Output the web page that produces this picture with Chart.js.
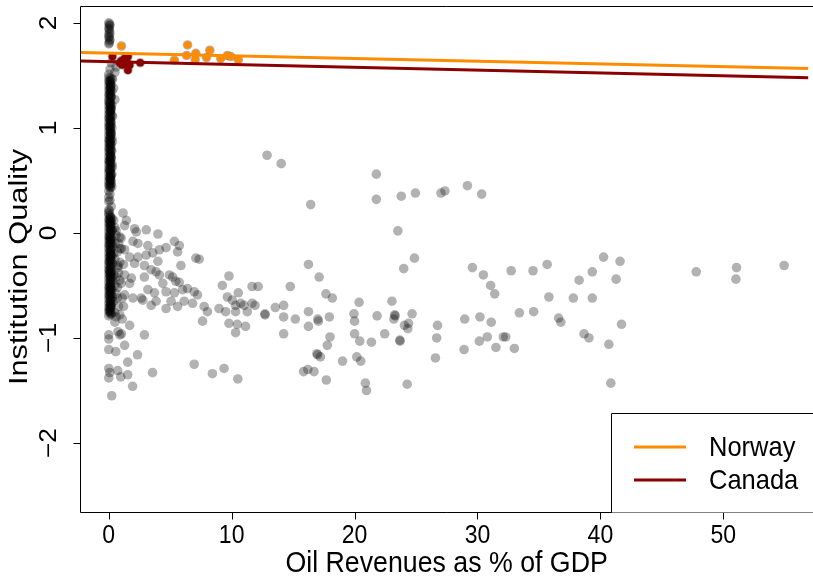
<!DOCTYPE html>
<html>
<head>
  <script src="https://cdn.jsdelivr.net/npm/chart.js@4.4.1/dist/chart.umd.min.js"></script>
  <style>
    html, body { margin: 0; padding: 0; background: #fff; }
    canvas { display: block; }
  </style>
</head>
<body>
  <canvas id="oilChart" width="813" height="578"></canvas>

  <script>
    // [oil revenues as % of GDP, institution quality]
    const norwayPoints = [
      [1.03, 1.78], [5.34, 1.645], [6.41, 1.79], [6.33, 1.69], [7.08, 1.71], [7.03, 1.65],
      [8.22, 1.74], [7.95, 1.67], [9.11, 1.66], [9.65, 1.69], [9.92, 1.68], [10.54, 1.65]
    ];
    const canadaPoints = [
      [0.3, 1.68], [0.89, 1.62], [1.03, 1.64], [1.29, 1.66], [1.43, 1.63], [1.56, 1.68],
      [1.56, 1.55], [1.7, 1.60], [1.1, 1.60], [2.56, 1.62]
    ];

    // fitted lines, evaluated at the ends of the x range
    const norwayFit = [[-2.3, 1.718], [57, 1.566]];
    const canadaFit = [[-2.3, 1.638], [57, 1.478]];

    // countries with (almost) no oil revenue
    const zeroOil = [
      [0, 2.00], [0.05, 1.97], [0, 1.95], [0.05, 1.92], [0, 1.89], [0, 1.86], [0.05, 1.83], [0, 1.80],
      [0.1, 1.98], [0.1, 1.90], [0.1, 1.84], [0.05, 1.99], [0.05, 1.94], [0.05, 1.87], [0.05, 1.81],
      [0.2, 1.62], [0.6, 1.58], [0.1, 1.56], [0.5, 1.53], [0, 1.51],
      [0, 1.48], [0.3, 1.46], [0, 1.44], [0.1, 1.42], [0, 1.40], [0.4, 1.38], [0, 1.36], [0.1, 1.34],
      [0, 1.32], [0.2, 1.30], [0, 1.28], [0.5, 1.27], [0, 1.25], [0.1, 1.23], [0, 1.21], [0.2, 1.19],
      [0, 1.17], [0.1, 1.15], [0, 1.13], [0.3, 1.11], [0, 1.09], [0.1, 1.07], [0, 1.05], [0.2, 1.03],
      [0, 1.01], [0.1, 0.99], [0, 0.97], [0.2, 0.95], [0, 0.93], [0.1, 0.91], [0, 0.89], [0.3, 0.87],
      [0, 0.85], [0.1, 0.83], [0, 0.81], [0.2, 0.79], [0, 0.77], [0.1, 0.75], [0, 0.73], [0.2, 0.71],
      [0, 0.69], [0.1, 0.67], [0, 0.65], [0.3, 0.63], [0, 0.61], [0.1, 0.59], [0, 0.57], [0.2, 0.55],
      [0, 0.53], [0.1, 0.51], [0, 0.49], [0.2, 0.47], [0, 0.45], [0.1, 0.43],
      [0.05, 1.45], [0.15, 1.39], [0.05, 1.31], [0.05, 1.24], [0.15, 1.16], [0.05, 1.10], [0.05, 1.02],
      [0.15, 0.96], [0.05, 0.88], [0.05, 0.80], [0.15, 0.74], [0.05, 0.68], [0.05, 0.60], [0.15, 0.54],
      [0.05, 0.46],
      [0.25, 1.47], [0.2, 1.41], [0.25, 1.35], [0.2, 1.29], [0.25, 1.22], [0.2, 1.18], [0.25, 1.12],
      [0.2, 1.06], [0.25, 1.00], [0.2, 0.94], [0.25, 0.90], [0.2, 0.84], [0.25, 0.78], [0.2, 0.72],
      [0.25, 0.66], [0.2, 0.62], [0.25, 0.56], [0.2, 0.50], [0.25, 0.44], [0.1, 1.38], [0.1, 1.20],
      [0.1, 0.86], [0.1, 0.70], [0.1, 0.52],
      [0.12, 1.475], [0.14, 1.453], [0.11, 1.436], [0.13, 1.414], [0.12, 1.397], [0.14, 1.372],
      [0.11, 1.356], [0.13, 1.333], [0.12, 1.318], [0.14, 1.294], [0.11, 1.277], [0.13, 1.252],
      [0.12, 1.238], [0.14, 1.213], [0.11, 1.196], [0.13, 1.174], [0.12, 1.157], [0.14, 1.133],
      [0.11, 1.118], [0.13, 1.094], [0.12, 1.077], [0.14, 1.052], [0.11, 1.036], [0.13, 1.014],
      [0.12, 0.997], [0.14, 0.973], [0.11, 0.958], [0.13, 0.934], [0.12, 0.917], [0.14, 0.893],
      [0.11, 0.876], [0.13, 0.852], [0.12, 0.838], [0.14, 0.813], [0.11, 0.797], [0.13, 0.774],
      [0.12, 0.756], [0.14, 0.733], [0.11, 0.718], [0.13, 0.694], [0.12, 0.677], [0.14, 0.653],
      [0.11, 0.636], [0.13, 0.614], [0.12, 0.597], [0.14, 0.572], [0.11, 0.557], [0.13, 0.533],
      [0.12, 0.516], [0.14, 0.494], [0.11, 0.477], [0.13, 0.452], [0.12, 0.437],
      [0, 0.40], [0.1, 0.37], [0, 0.34], [0, 0.30], [0.2, 0.25], [0, 0.22], [0, 0.19], [0.1, 0.31], [0.05, 0.21],
      [0, 0.17], [0.1, 0.15], [0, 0.13], [0.2, 0.11], [0, 0.09], [0.1, 0.07], [0, 0.05], [0.3, 0.03],
      [0, 0.01], [0.1, -0.01], [0, -0.03], [0.2, -0.05], [0, -0.07], [0.1, -0.09], [0, -0.11], [0.3, -0.13],
      [0, -0.15], [0.1, -0.17], [0, -0.19], [0.2, -0.21], [0, -0.23], [0.1, -0.25], [0, -0.27], [0.3, -0.29],
      [0, -0.31], [0.1, -0.33], [0, -0.35], [0.2, -0.37], [0, -0.39], [0.1, -0.41], [0, -0.43], [0.3, -0.45],
      [0, -0.47], [0.1, -0.49], [0, -0.51], [0.2, -0.53], [0, -0.55], [0.1, -0.57], [0, -0.59], [0.3, -0.61],
      [0, -0.63], [0.1, -0.65], [0, -0.67], [0.2, -0.69], [0, -0.71], [0.1, -0.73], [0, -0.75], [0.2, -0.77],
      [0, -0.79],
      [0.05, 0.12], [0.15, 0.04], [0.05, -0.04], [0.05, -0.12], [0.15, -0.20], [0.05, -0.28], [0.05, -0.36],
      [0.15, -0.44], [0.05, -0.52], [0.05, -0.60], [0.15, -0.68], [0.05, -0.74],
      [0.25, 0.14], [0.2, 0.08], [0.25, 0.02], [0.2, -0.06], [0.25, -0.10], [0.2, -0.16], [0.25, -0.22],
      [0.2, -0.26], [0.25, -0.32], [0.2, -0.38], [0.25, -0.42], [0.2, -0.48], [0.25, -0.54], [0.2, -0.58],
      [0.25, -0.64], [0.2, -0.70], [0.25, -0.76], [0.1, 0.10], [0.1, -0.06], [0.1, -0.22], [0.1, -0.38],
      [0.1, -0.54], [0.1, -0.70],
      [0.12, 0.166], [0.14, 0.143], [0.11, 0.126], [0.13, 0.104], [0.12, 0.087], [0.14, 0.063],
      [0.11, 0.046], [0.13, 0.024], [0.12, 0.007], [0.14, -0.017], [0.11, -0.034], [0.13, -0.057],
      [0.12, -0.073], [0.14, -0.097], [0.11, -0.114], [0.13, -0.136], [0.12, -0.153], [0.14, -0.177],
      [0.11, -0.194], [0.13, -0.216], [0.12, -0.233], [0.14, -0.257], [0.11, -0.274], [0.13, -0.296],
      [0.12, -0.313], [0.14, -0.337], [0.11, -0.354], [0.13, -0.376], [0.12, -0.393], [0.14, -0.417],
      [0.11, -0.434], [0.13, -0.456], [0.12, -0.473], [0.14, -0.497], [0.11, -0.514], [0.13, -0.536],
      [0.12, -0.553], [0.14, -0.577], [0.11, -0.594], [0.13, -0.616], [0.12, -0.633], [0.14, -0.657],
      [0.11, -0.674], [0.13, -0.696], [0.12, -0.713], [0.14, -0.737], [0.11, -0.754], [0.13, -0.776],
      [0, -0.97], [0, -1.01], [0, -1.11], [0, -1.29], [0.08, -1.33], [0, -1.38], [0.24, -1.55]
    ];

    // low oil revenue, up to about 16 %
    const lowOil = [
      [0.5, 0.05], [0.7, -0.18], [0.4, -0.40], [0.6, -0.58], [0.8, -0.70], [0.5, -0.76], [1.0, -0.48],
      [0.8, -0.10], [0.4, 0.12], [0.6, -0.02], [0.75, -0.31], [0.75, -0.33], [0.9, -0.28], [0.5, -0.25],
      [0.4, -0.65], [1.1, -0.62], [0.6, -0.80],
      [0.6, -0.42], [0.9, -0.45], [0.7, -0.52], [1.2, -0.70], [0.9, -0.78], [0.5, -0.50], [0.7, -0.62],
      [1.2, -0.30], [0.5, -0.10], [0.9, -0.15], [0.6, 0.02], [1.0, -0.05], [0.4, -0.20], [0.8, -0.38],
      [1.1, -0.82], [0.5, -0.85],
      [1.16, 0.19], [1.43, 0.12], [1.29, 0.07], [2.10, 0.04], [2.24, 0.01], [3.05, 0.03], [4.00, -0.01],
      [0.89, -0.04], [1.97, -0.08], [2.37, -0.10], [3.18, -0.12], [5.34, -0.08], [5.74, -0.12],
      [1.29, -0.16], [1.03, -0.15], [4.12, -0.16], [4.66, -0.14], [7.09, -0.24], [2.37, -0.23],
      [1.70, -0.23], [3.05, -0.21], [3.58, -0.19], [2.10, -0.29], [2.90, -0.31], [4.00, -0.27],
      [5.87, -0.31], [3.45, -0.35], [3.85, -0.37], [2.90, -0.42], [4.93, -0.40], [5.20, -0.42],
      [1.29, -0.40], [1.84, -0.43], [4.40, -0.48], [3.18, -0.54], [3.72, -0.57], [4.66, -0.56],
      [5.34, -0.57], [6.00, -0.54], [6.40, -0.53], [6.95, -0.56], [5.74, -0.47], [7.22, -0.59],
      [2.65, -0.62], [1.97, -0.62], [3.85, -0.65], [5.07, -0.65], [6.14, -0.65], [1.29, -0.59],
      [5.60, -0.18], [4.12, -0.40], [1.70, -0.48], [5.45, -0.46], [2.77, -0.64], [3.45, -0.69],
      [6.82, -0.67], [5.60, -0.70], [4.66, -0.72],
      [7.36, -0.25], [9.78, -0.41], [9.24, -0.50], [11.66, -0.51], [12.15, -0.51], [9.65, -0.61],
      [10.05, -0.64], [10.54, -0.57], [7.76, -0.70], [8.03, -0.75], [8.97, -0.72], [9.51, -0.75],
      [10.32, -0.69], [10.73, -0.67], [11.0, -0.69], [11.66, -0.67], [10.32, -0.75], [11.27, -0.75],
      [11.9, -0.69], [12.7, -0.77], [12.72, -0.78], [13.55, -0.71], [14.23, -0.69], [14.23, -0.80],
      [15.18, -0.82], [14.23, -0.96], [14.77, -0.51], [16.25, -0.30], [16.25, -0.75], [16.25, -0.89],
      [7.63, -0.84], [9.78, -0.86], [10.46, -0.87], [11.13, -0.89], [10.32, -0.95],
      [0.9, -0.97], [1.03, -0.96], [0.75, -0.94], [1.70, -0.88], [2.90, -0.97],
      [0.57, -1.13], [1.29, -1.07], [2.34, -1.16], [1.54, -1.23], [0.73, -1.31], [0.97, -1.37],
      [1.54, -1.35], [3.56, -1.33], [1.94, -1.46], [6.95, -1.25],
      [8.43, -1.34], [9.38, -1.29], [10.5, -1.39], [15.85, -1.32], [16.2, -1.30], [16.7, -1.32]
    ];

    // oil-rich countries
    const highOil = [
      [12.88, 0.74], [14.03, 0.66], [21.77, 0.56], [16.43, 0.27], [21.77, 0.32], [23.8, 0.35],
      [24.95, 0.38], [27.03, 0.38], [27.35, 0.40], [29.18, 0.45], [30.34, 0.37], [23.52, 0.02],
      [24.87, -0.24], [24.0, -0.34],
      [17.12, -0.42], [17.67, -0.58], [18.19, -0.62], [20.37, -0.66], [23.04, -0.65],
      [17.0, -0.82], [17.06, -0.84], [17.95, -0.80], [19.95, -0.77], [20.0, -0.84], [21.83, -0.79],
      [23.26, -0.78], [23.3, -0.79], [23.2, -0.82], [24.68, -0.77], [24.06, -0.88], [24.39, -0.86],
      [24.33, -0.91], [18.0, -0.99], [17.78, -1.07], [20.0, -0.96], [20.42, -1.03], [21.37, -1.04],
      [22.45, -0.96], [23.68, -1.02], [23.7, -1.03], [26.75, -0.88], [26.68, -1.00], [26.58, -1.19],
      [28.96, -0.82], [30.2, -0.80], [31.12, -0.85], [29.59, -0.33], [30.48, -0.40], [31.07, -0.50],
      [31.4, -0.58], [32.74, -0.36], [34.52, -0.36], [33.41, -0.76], [34.57, -0.75], [30.15, -1.03],
      [30.8, -0.99], [31.5, -1.09], [32.1, -0.99], [32.3, -0.99], [33.0, -1.10], [28.91, -1.11],
      [16.93, -1.15], [17.0, -1.16], [17.22, -1.18], [19.02, -1.22], [20.18, -1.18], [20.5, -1.22],
      [17.7, -1.40], [20.88, -1.43], [20.97, -1.50], [24.28, -1.44],
      [35.67, -0.30], [40.26, -0.23], [41.6, -0.27], [39.34, -0.37], [38.27, -0.45], [41.28, -0.44],
      [35.81, -0.61], [37.8, -0.62], [39.34, -0.62], [36.6, -0.81], [36.78, -0.85], [38.67, -0.96],
      [39.07, -1.00], [41.72, -0.87], [40.69, -1.06], [40.85, -1.43],
      [47.8, -0.37], [51.08, -0.33], [51.03, -0.44], [54.95, -0.31]
    ];

    const xTicks = [0, 10, 20, 30, 40, 50];
    const yTicks = [-2, -1, 0, 1, 2];
    const legendItems = [
      { label: 'Norway', color: '#FF8C00' },
      { label: 'Canada', color: '#8B0000' }
    ];

    const FONT = '"Liberation Sans", Arial, Helvetica, sans-serif';

    function drawText(ctx, text, x, y, size, angle, sx, sy, align) {
      ctx.save();
      ctx.translate(x, y);
      ctx.rotate(angle);
      ctx.scale(sx, sy);
      ctx.font = size + 'px ' + FONT;
      ctx.fillStyle = '#000';
      ctx.textAlign = align || 'center';
      ctx.textBaseline = 'middle';
      ctx.fillText(text, 0, 0);
      ctx.restore();
    }

    // base-graphics style frame, ticks, labels and legend
    const baseAxes = {
      id: 'baseAxes',
      afterDraw(chart) {
        const { ctx, chartArea: a, scales: { x, y } } = chart;
        const left = Math.round(a.left) - 0.5;
        const top = Math.round(a.top) + 0.5;
        const bottom = Math.round(a.bottom) + 0.5;

        ctx.save();
        ctx.strokeStyle = '#000';
        ctx.lineWidth = 1;
        ctx.beginPath();
        ctx.moveTo(a.right + 5, top);
        ctx.lineTo(left, top);
        ctx.lineTo(left, bottom);
        ctx.lineTo(a.right + 5, bottom);
        ctx.stroke();

        ctx.beginPath();
        xTicks.forEach(v => {
          const px = Math.round(x.getPixelForValue(v)) + 0.5;
          ctx.moveTo(px, bottom);
          ctx.lineTo(px, bottom + 7);
        });
        yTicks.forEach(v => {
          const py = Math.round(y.getPixelForValue(v)) + 0.5;
          ctx.moveTo(left, py);
          ctx.lineTo(left - 7, py);
        });
        ctx.stroke();

        xTicks.forEach(v => {
          drawText(ctx, String(v), x.getPixelForValue(v), a.bottom + 24, 24, 0, 0.96, 1.1);
        });
        yTicks.forEach(v => {
          const t = v < 0 ? '\u2212' + Math.abs(v) : String(v);
          drawText(ctx, t, a.left - 31, y.getPixelForValue(v), 24, -Math.PI / 2, 1.1, 0.96);
        });

        drawText(ctx, 'Oil Revenues as % of GDP', (a.left + a.right) / 2 + 2, a.bottom + 52, 27, 0, 0.99, 1.06);
        drawText(ctx, 'Institution Quality', a.left - 61, (a.top + a.bottom) / 2 + 8, 27, -Math.PI / 2, 1.14, 0.96);

        // legend box in the lower right corner
        const lx = 611.5, ly = 413.5;
        ctx.fillStyle = '#fff';
        ctx.fillRect(lx, ly, 210, bottom - ly);
        ctx.beginPath();
        ctx.moveTo(lx, bottom);
        ctx.lineTo(lx, ly);
        ctx.lineTo(lx + 210, ly);
        ctx.stroke();

        legendItems.forEach((item, i) => {
          const ry = 447 + i * 33;
          ctx.strokeStyle = item.color;
          ctx.lineWidth = 3;
          ctx.beginPath();
          ctx.moveTo(634, ry);
          ctx.lineTo(686, ry);
          ctx.stroke();
          drawText(ctx, item.label, 709, ry + 1, 26, 0, 0.98, 1.08, 'left');
        });
        ctx.restore();
      }
    };

    const grayPoints = zeroOil.concat(lowOil, highOil, norwayPoints, canadaPoints);

    new Chart(document.getElementById('oilChart').getContext('2d'), {
      type: 'scatter',
      data: {
        datasets: [
          { type: 'line', data: norwayFit, borderColor: '#FF8C00', borderWidth: 3, pointRadius: 0, showLine: true, order: 0 },
          { type: 'line', data: canadaFit, borderColor: '#8B0000', borderWidth: 3, pointRadius: 0, showLine: true, order: 1 },
          { data: norwayPoints, backgroundColor: '#FF8C00', pointRadius: 3.8, order: 2 },
          { data: canadaPoints, backgroundColor: '#8B0000', pointRadius: 3.8, order: 3 },
          { data: grayPoints, backgroundColor: 'rgba(0, 0, 0, 0.3)', pointRadius: 4.8, order: 4 }
        ]
      },
      options: {
        responsive: false,
        animation: false,
        layout: { padding: { left: 81, top: 6, right: 0, bottom: 66 } },
        elements: { point: { borderWidth: 0, hoverRadius: 0 } },
        scales: {
          x: { type: 'linear', min: -2.26, max: 56.91, display: false },
          y: { type: 'linear', min: -2.657, max: 2.161, display: false }
        },
        plugins: {
          legend: { display: false },
          tooltip: { enabled: false }
        }
      },
      plugins: [baseAxes]
    });
  </script>
</body>
</html>
